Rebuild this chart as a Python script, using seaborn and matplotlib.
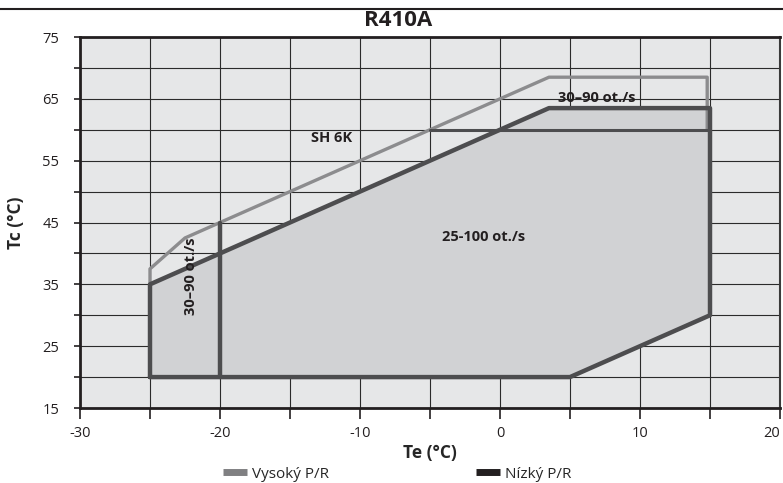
import matplotlib
matplotlib.use('Agg')
import matplotlib.pyplot as plt
import seaborn as sns
from matplotlib.lines import Line2D

# envelope under the low P/R line (Nízký P/R)
low_te = [-25, -25, 3.5, 15, 15, 5, -25]
low_tc = [20, 35, 63.5, 63.5, 30, 20, 20]

# high P/R line (Vysoký P/R)
high_te = [-25, -25, -22.5, -20, 3.5, 14.8, 14.8]
high_tc = [35, 37.5, 42.5, 45, 68.5, 68.5, 60]

# split line between 30-90 and 25-100 ot./s
split_te = [-20, -20]
split_tc = [20, 45]

# upper band limit
band_te = [-5, 15]
band_tc = [60, 60]

labels = ['SH 6K', '30–90 ot./s', '25-100 ot./s', '30–90 ot./s']
label_te = [-12, 6.9, -1.2, -22.1]
label_tc = [58.6, 65.1, 42.6, 36.3]
label_rot = [0, 0, 0, 90]

x_ticks = [-30, -25, -20, -15, -10, -5, 0, 5, 10, 15, 20]
y_ticks = [15, 20, 25, 30, 35, 40, 45, 50, 55, 60, 65, 70, 75]

legend_names = ['Vysoký P/R', 'Nízký P/R']

sns.set_style('white')
plt.rcParams['font.family'] = ['Open Sans', 'DejaVu Sans']

fig = plt.figure(figsize=(7.83, 4.83), dpi=100)
ax = fig.add_axes([80 / 783, 75 / 483, 700 / 783, 371 / 483])
ax.set_facecolor('#e6e7e8')

dark = '#4d4d4f'
grey = '#8c8c8e'
ink = '#231f20'

ax.fill(low_te, low_tc, color='#d1d2d4', zorder=1, lw=0)

sns.lineplot(x=high_te, y=high_tc, sort=False, estimator=None, color=grey,
             lw=2.4, ax=ax, zorder=4)
sns.lineplot(x=low_te, y=low_tc, sort=False, estimator=None, color=dark,
             lw=3.2, ax=ax, zorder=5)
sns.lineplot(x=split_te, y=split_tc, sort=False, estimator=None, color=dark,
             lw=3.2, ax=ax, zorder=5)
sns.lineplot(x=band_te, y=band_tc, sort=False, estimator=None, color=dark,
             lw=2.2, ax=ax, zorder=5)

for txt, x, y, r in zip(labels, label_te, label_tc, label_rot):
    ax.text(x, y, txt, fontsize=10.5, fontweight='bold', ha='center', va='center',
            rotation=r, color=ink, zorder=6)

ax.set_xlim(-30, 20)
ax.set_ylim(15, 75)
ax.set_xticks(x_ticks)
ax.set_xticklabels([str(v) if v % 10 == 0 else '' for v in x_ticks])
ax.set_yticks(y_ticks)
ax.set_yticklabels([str(v) if v % 10 == 5 else '' for v in y_ticks])
ax.grid(True, color='#2b2b2b', lw=0.8)
for gl in ax.get_xgridlines() + ax.get_ygridlines():
    gl.set_zorder(2)

ax.tick_params(axis='x', direction='out', length=8, width=1.2, pad=5,
               labelsize=10.5, colors=ink, bottom=True)
ax.tick_params(axis='y', direction='out', length=4, width=1.2, pad=11,
               labelsize=10.5, colors=ink, left=True)
for side in ['left', 'bottom', 'top']:
    ax.spines[side].set_linewidth(2)
    ax.spines[side].set_color(ink)
ax.spines['right'].set_linewidth(1.5)
ax.spines['right'].set_color('#3a3a3a')

# last label sits flush with the right edge, like the original
ax.get_xticklabels()[-1].set_horizontalalignment('right')

ax.set_xlabel('Te (°C)', fontsize=12.5, fontweight='bold', labelpad=2)
ax.set_ylabel('Tc (°C)', fontsize=12.5, fontweight='bold', labelpad=12)

fig.text(398 / 783, 1 - 21 / 483, 'R410A', fontsize=16, fontweight='bold',
         ha='center', va='center', color=ink)
fig.add_artist(Line2D([0, 1], [1 - 9 / 483, 1 - 9 / 483], color=ink, lw=1.5))

handles = [Line2D([], [], color='#808082', lw=5, solid_capstyle='butt'),
           Line2D([], [], color=ink, lw=5, solid_capstyle='butt')]
fig.legend(handles, legend_names, loc='center left', bbox_to_anchor=(223 / 783, 1 - 474 / 483),
           ncol=2, frameon=False, fontsize=11, handlelength=1.57, handletextpad=0.33,
           columnspacing=9.6, borderpad=0, borderaxespad=0)

fig.savefig('out.png', dpi=100)
